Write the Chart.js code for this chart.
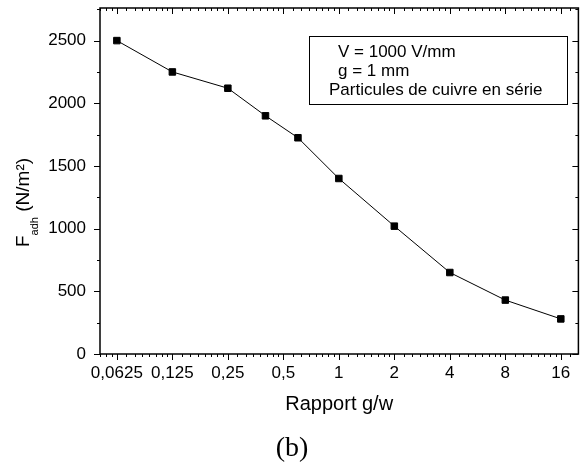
<!DOCTYPE html>
<html>
<head>
<meta charset="utf-8">
<script src="https://cdn.jsdelivr.net/npm/chart.js@4"></script>
<style>
  html, body { margin: 0; padding: 0; background: #fff; }
  #wrap { width: 584px; height: 463px; }
</style>
</head>
<body>
<div id="wrap"><canvas id="grafico"></canvas></div>
<script>
// valeurs (b)
var rapport = [0.0625, 0.125, 0.25, 0.4, 0.6, 1, 2, 4, 8, 16];
var forceAdh = [2500, 2250, 2120, 1900, 1725, 1400, 1020, 650, 430, 280];
var ticksX = [0.0625, 0.125, 0.25, 0.5, 1, 2, 4, 8, 16];
var ticksY = [0, 500, 1000, 1500, 2000, 2500];
var legende = ['V = 1000 V/mm', 'g = 1 mm', 'Particules de cuivre en série'];

var police = "'Liberation Sans', Arial, sans-serif";

// cadre, graduations, titre Y, encadré et (b)
var decor = {
    id: 'decor',
    afterDraw: function (chart) {
        var ctx = chart.ctx;
        var a = chart.chartArea;
        var sx = chart.scales.x;
        var sy = chart.scales.y;

        ctx.save();
        ctx.strokeStyle = '#000';
        ctx.lineWidth = 1.5;
        ctx.strokeRect(a.left, a.top, a.right - a.left, a.bottom - a.top);

        ctx.lineWidth = 1;
        ctx.beginPath();
        // graduations X (majeures + mineures)
        for (var b = ticksX[0] / 2; b <= ticksX[ticksX.length - 1]; b *= 2) {
            for (var k = 0; k < 8; k++) {
                var v = b * (1 + k / 8);
                if (v < sx.min || v > sx.max) continue;
                var x = Math.round(sx.getPixelForValue(v)) + 0.5;
                var lg = (k == 0) ? 6 : 3;
                ctx.moveTo(x, a.bottom); ctx.lineTo(x, a.bottom + lg);
                ctx.moveTo(x, a.top); ctx.lineTo(x, a.top + lg);
            }
        }
        // graduations Y
        for (var y = 0; y <= sy.max; y += 250) {
            var py = Math.round(sy.getPixelForValue(y)) + 0.5;
            var lg2 = (y % 500 == 0) ? 6 : 3;
            ctx.moveTo(a.left, py); ctx.lineTo(a.left - lg2, py);
            ctx.moveTo(a.right, py); ctx.lineTo(a.right - lg2, py);
        }
        ctx.stroke();

        // titre axe Y avec indice
        ctx.fillStyle = '#000';
        ctx.translate(28.5, 247);
        ctx.rotate(-Math.PI / 2);
        ctx.textBaseline = 'alphabetic';
        ctx.textAlign = 'left';
        ctx.font = '19px ' + police;
        ctx.fillText('F', 0, 0);
        var w = ctx.measureText('F').width;
        ctx.font = '11px ' + police;
        ctx.fillText('adh', w, 9);
        w += ctx.measureText('adh').width;
        ctx.font = '19px ' + police;
        ctx.fillText(' (N/m²)', w, 0);
        ctx.setTransform(1, 0, 0, 1, 0, 0);

        // encadré
        ctx.lineWidth = 1;
        ctx.strokeRect(309.5, 36.5, 258, 68);
        ctx.font = '17px ' + police;
        ctx.fillText(legende[0], 338, 57);
        ctx.fillText(legende[1], 338, 76);
        ctx.fillText(legende[2], 329, 95);

        // (b)
        ctx.font = "28px 'Liberation Serif', 'Times New Roman', serif";
        ctx.textAlign = 'center';
        ctx.fillText('(b)', 292, 456);
        ctx.restore();
    }
};

var dados = {
    datasets: [
        {
            label: 'Fadh',
            data: rapport.map(function (r, i) { return { x: r, y: forceAdh[i] }; }),
            borderColor: '#000',
            backgroundColor: '#000',
            borderWidth: 1,
            pointStyle: 'rect',
            pointRadius: 4.6,
            pointBorderWidth: 1,
            pointBackgroundColor: '#000',
            pointBorderColor: '#000',
            tension: 0
        }
    ]
};

var config = {
    type: 'line',
    data: dados,
    options: {
        responsive: false,
        animation: false,
        devicePixelRatio: 1,
        layout: { padding: { top: 8, right: 2, left: 0, bottom: 0 } },
        plugins: {
            legend: { display: false },
            tooltip: { enabled: false }
        },
        scales: {
            x: {
                type: 'logarithmic',
                min: Math.pow(2, -4.304),
                max: Math.pow(2, 4.317),
                grid: { display: false, drawTicks: false },
                border: { display: false },
                afterBuildTicks: function (scale) {
                    scale.ticks = ticksX.map(function (v) { return { value: v }; });
                },
                afterFit: function (scale) {
                    scale.height = 109;
                    scale.paddingLeft = 0;
                    scale.paddingRight = 0;
                },
                ticks: {
                    autoSkip: false,
                    maxRotation: 0,
                    padding: 9,
                    color: '#000',
                    font: { family: police, size: 17 },
                    callback: function (v) { return String(v).replace('.', ','); }
                },
                title: {
                    display: true,
                    text: 'Rapport g/w',
                    color: '#000',
                    font: { family: police, size: 20 },
                    padding: { top: 0, bottom: 47 }
                }
            },
            y: {
                min: 0,
                max: 2760,
                grid: { display: false, drawTicks: false },
                border: { display: false },
                afterBuildTicks: function (scale) {
                    scale.ticks = ticksY.map(function (v) { return { value: v }; });
                },
                afterFit: function (scale) {
                    scale.width = 100;
                    scale.paddingTop = 0;
                    scale.paddingBottom = 0;
                },
                ticks: {
                    padding: 14,
                    color: '#000',
                    font: { family: police, size: 17 },
                    callback: function (v) { return String(v); }
                }
            }
        }
    },
    plugins: [decor]
};

var cv = document.getElementById('grafico');
cv.width = 584;
cv.height = 463;
var grafico = new Chart(cv, config);
</script>
</body>
</html>
